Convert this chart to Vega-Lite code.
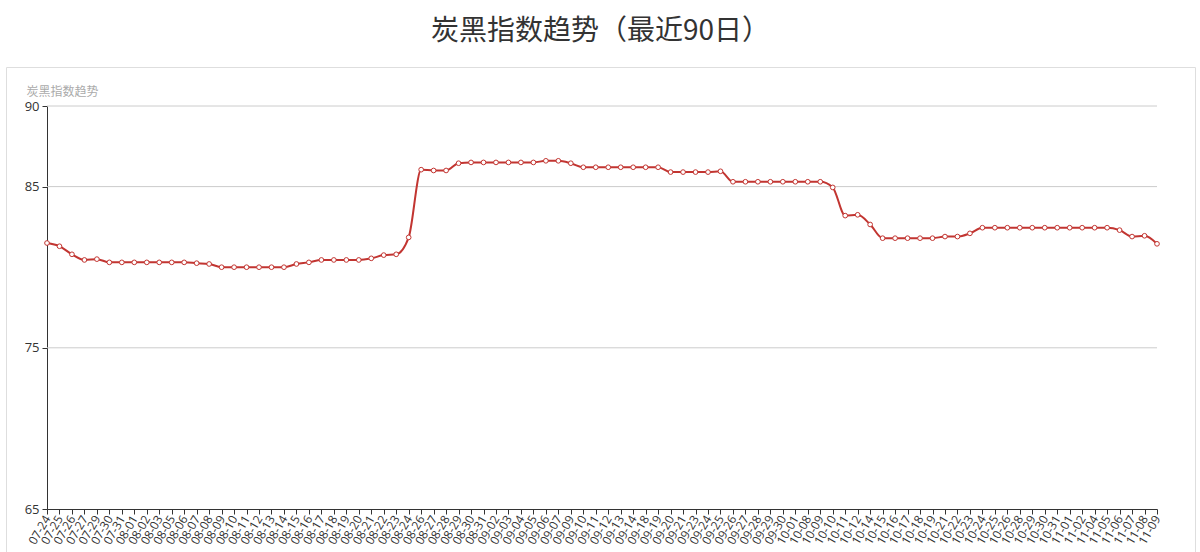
{
  "$schema": "https://vega.github.io/schema/vega-lite/v6.json",
  "autosize": "none",
  "width": 1189,
  "height": 485,
  "padding": {"left": 6, "top": 67, "right": 5, "bottom": 0},
  "background": "white",
  "config": {
    "view": {"stroke": "#dedede", "strokeWidth": 1},
    "font": "Noto Sans CJK SC"
  },
  "title": {
    "text": "炭黑指数趋势（最近90日）",
    "anchor": "middle",
    "frame": "group",
    "fontSize": 28,
    "fontWeight": "normal",
    "font": "Noto Sans CJK SC",
    "color": "#333333",
    "baseline": "middle",
    "offset": 7
  },
  "datasets": {
    "index": [
      {"date": "07-24", "v": 81.5},
      {"date": "07-25", "v": 81.3},
      {"date": "07-26", "v": 80.8},
      {"date": "07-27", "v": 80.45},
      {"date": "07-29", "v": 80.5},
      {"date": "07-30", "v": 80.3},
      {"date": "07-31", "v": 80.3},
      {"date": "08-01", "v": 80.3},
      {"date": "08-02", "v": 80.3},
      {"date": "08-03", "v": 80.3},
      {"date": "08-05", "v": 80.3},
      {"date": "08-06", "v": 80.3},
      {"date": "08-07", "v": 80.25},
      {"date": "08-08", "v": 80.2},
      {"date": "08-09", "v": 80.0},
      {"date": "08-10", "v": 80.0},
      {"date": "08-11", "v": 80.0},
      {"date": "08-12", "v": 80.0},
      {"date": "08-13", "v": 80.0},
      {"date": "08-14", "v": 80.0},
      {"date": "08-15", "v": 80.2},
      {"date": "08-16", "v": 80.3},
      {"date": "08-17", "v": 80.45},
      {"date": "08-18", "v": 80.45},
      {"date": "08-19", "v": 80.45},
      {"date": "08-20", "v": 80.45},
      {"date": "08-21", "v": 80.55},
      {"date": "08-22", "v": 80.75},
      {"date": "08-23", "v": 80.8},
      {"date": "08-24", "v": 81.85},
      {"date": "08-26", "v": 86.05},
      {"date": "08-27", "v": 86.0},
      {"date": "08-28", "v": 86.0},
      {"date": "08-29", "v": 86.45},
      {"date": "08-30", "v": 86.5},
      {"date": "08-31", "v": 86.5},
      {"date": "09-02", "v": 86.5},
      {"date": "09-03", "v": 86.5},
      {"date": "09-04", "v": 86.5},
      {"date": "09-05", "v": 86.5},
      {"date": "09-06", "v": 86.6},
      {"date": "09-07", "v": 86.6},
      {"date": "09-09", "v": 86.45},
      {"date": "09-10", "v": 86.2},
      {"date": "09-11", "v": 86.2},
      {"date": "09-12", "v": 86.2},
      {"date": "09-13", "v": 86.2},
      {"date": "09-14", "v": 86.2},
      {"date": "09-18", "v": 86.2},
      {"date": "09-19", "v": 86.2},
      {"date": "09-20", "v": 85.9},
      {"date": "09-21", "v": 85.9},
      {"date": "09-23", "v": 85.9},
      {"date": "09-24", "v": 85.9},
      {"date": "09-25", "v": 85.95},
      {"date": "09-26", "v": 85.3},
      {"date": "09-27", "v": 85.3},
      {"date": "09-28", "v": 85.3},
      {"date": "09-29", "v": 85.3},
      {"date": "09-30", "v": 85.3},
      {"date": "10-01", "v": 85.3},
      {"date": "10-08", "v": 85.3},
      {"date": "10-09", "v": 85.3},
      {"date": "10-10", "v": 84.95},
      {"date": "10-11", "v": 83.2},
      {"date": "10-12", "v": 83.25},
      {"date": "10-14", "v": 82.65},
      {"date": "10-15", "v": 81.8},
      {"date": "10-16", "v": 81.8},
      {"date": "10-17", "v": 81.8},
      {"date": "10-18", "v": 81.8},
      {"date": "10-19", "v": 81.8},
      {"date": "10-21", "v": 81.9},
      {"date": "10-22", "v": 81.9},
      {"date": "10-23", "v": 82.1},
      {"date": "10-24", "v": 82.45},
      {"date": "10-25", "v": 82.45},
      {"date": "10-26", "v": 82.45},
      {"date": "10-28", "v": 82.45},
      {"date": "10-29", "v": 82.45},
      {"date": "10-30", "v": 82.45},
      {"date": "10-31", "v": 82.45},
      {"date": "11-01", "v": 82.45},
      {"date": "11-02", "v": 82.45},
      {"date": "11-04", "v": 82.45},
      {"date": "11-05", "v": 82.45},
      {"date": "11-06", "v": 82.3},
      {"date": "11-07", "v": 81.9},
      {"date": "11-08", "v": 81.95},
      {"date": "11-09", "v": 81.45}
    ],
    "grid": [
      {"date": "07-24", "end": "11-09", "v": 75},
      {"date": "07-24", "end": "11-09", "v": 85},
      {"date": "07-24", "end": "11-09", "v": 90}
    ]
  },
  "layer": [
    {
      "data": {"name": "grid"},
      "mark": {"type": "rule", "color": "#cccccc", "strokeWidth": 1},
      "encoding": {
        "x": {"field": "date", "type": "ordinal"},
        "x2": {"field": "end"},
        "y": {"field": "v", "type": "quantitative"}
      }
    },
    {
      "data": {"name": "index"},
      "mark": {
        "type": "line",
        "interpolate": "monotone",
        "color": "#c23531",
        "strokeWidth": 2,
        "point": {
          "filled": true,
          "fill": "white",
          "stroke": "#c23531",
          "strokeWidth": 1,
          "size": 22,
          "opacity": 1
        }
      },
      "encoding": {
        "x": {
          "field": "date",
          "type": "ordinal",
          "sort": "ascending",
          "scale": {"type": "point", "padding": 0, "range": [41, 1151]},
          "axis": {
            "title": null,
            "offset": -43,
            "labelAngle": -60,
            "labelAlign": "right",
            "labelBaseline": "middle",
            "labelFont": "Open Sans",
            "labelFontSize": 12,
            "labelColor": "#333333",
            "labelPadding": 2,
            "labelOverlap": false,
            "labelFlush": false,
            "domainColor": "#333333",
            "tickColor": "#333333",
            "tickSize": 5,
            "grid": false
          }
        },
        "y": {
          "field": "v",
          "type": "quantitative",
          "scale": {"domain": [65, 90], "range": [442, 39], "zero": false, "nice": false},
          "axis": {
            "title": "炭黑指数趋势",
            "titleAngle": 0,
            "titleAlign": "left",
            "titleBaseline": "middle",
            "titleX": -21,
            "titleY": 24,
            "titleFont": "Noto Sans CJK SC",
            "titleFontSize": 12,
            "titleFontWeight": "normal",
            "titleColor": "#aaaaaa",
            "offset": -41,
            "values": [65, 75, 85, 90],
            "labelFont": "Open Sans",
            "labelFontSize": 13,
            "labelColor": "#333333",
            "labelPadding": 3,
            "domainColor": "#333333",
            "tickColor": "#333333",
            "tickSize": 5,
            "grid": false
          }
        }
      }
    }
  ]
}
